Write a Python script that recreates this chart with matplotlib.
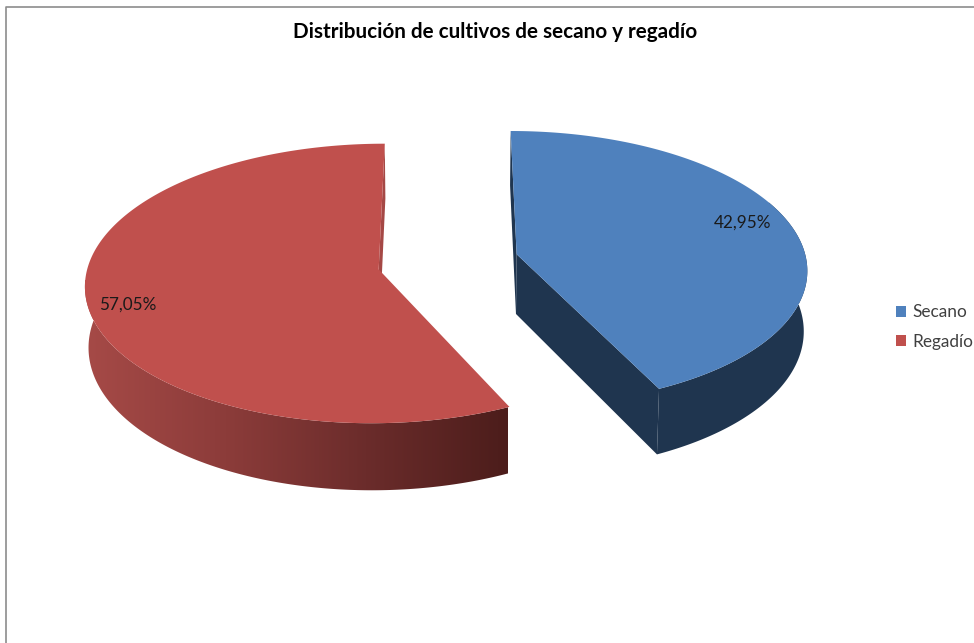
import matplotlib
matplotlib.use('Agg')
import matplotlib.pyplot as plt
from matplotlib.patches import Patch, Polygon
from matplotlib.colors import LinearSegmentedColormap
import numpy as np

labels = ['Secano', 'Regadío']
values = [42.95, 57.05]
title = 'Distribución de cultivos de secano y regadío'

gblue = '#4F81BD'
gred = '#C0504D'
blue_side = '#1F354F'
red_cut = '#A54845'

# side shading of the red slice, left to right
red_side = LinearSegmentedColormap.from_list('red_side', ['#A64A47', '#8C3C3A', '#6B2C2B', '#4C1D1B'])

# camera of the fake 3d pie
cx, A = 446.5, 290.0
y0, d, e = 262.3, -110.7, 0.1
depth = 60.0
explode = 0.235
shrink = 0.99
nudge = [(4, -1), (-1, 0)]


def project(u, v, i, low=False):
    w = 1 + e * v
    x = A * u / w
    y = (y0 + d * v) / w
    if low:
        return cx + x * shrink + nudge[i][0], y + depth / w + nudge[i][1]
    return cx + x + nudge[i][0], y + nudge[i][1]


fig = plt.figure(figsize=(9.74, 6.43), dpi=100)
ax = fig.add_axes([0, 0, 1, 1])

# frame of the chart area
ax.plot([6, 6, 974], [643, 7, 7], color='#8C8C8C', lw=1.2)

total = sum(values)
start = 0.0
for i, val in enumerate(values):
    sweep = 360.0 * val / total
    th = np.radians(np.linspace(start, start + sweep, 361))
    mid = np.radians(start + sweep / 2)
    ou, ov = explode * np.sin(mid), explode * np.cos(mid)
    u = ou + np.sin(th)
    v = ov + np.cos(th)

    # rim, the back part stays hidden under the top face
    front = np.cos(th) < 0.4
    upper = [project(a, b, i) for a, b in zip(u[front], v[front])]
    lower = [project(a, b, i, True) for a, b in zip(u[front], v[front])]
    rim = Polygon(upper + lower[::-1], fc=blue_side if i == 0 else 'none', ec='none', zorder=2 + i)
    ax.add_patch(rim)
    if i == 1:
        im = ax.imshow(np.linspace(0, 1, 256).reshape(1, -1), cmap=red_side, extent=(84, 508, 500, 280),
                       aspect='auto', zorder=2 + i)
        im.set_clip_path(rim)

    # cut faces, the red slice only shows the one at the back
    for k in ((0, -1) if i == 0 else (-1,)):
        pts = [project(ou, ov, i), project(u[k], v[k], i), project(u[k], v[k], i, True), project(ou, ov, i, True)]
        c = blue_side if i == 0 else red_cut
        ax.add_patch(Polygon(pts, fc=c, ec='none', zorder=2 + i))

    # top face
    top = [project(ou, ov, i)] + [project(a, b, i) for a, b in zip(u, v)]
    ax.add_patch(Polygon(top, fc=gblue if i == 0 else gred, ec='none', zorder=4 + i))
    start += sweep

ax.set_xlim(0, 974)
ax.set_ylim(643, 0)
ax.axis('off')

ax.text(495.5, 32, title, ha='center', va='center', fontsize=14.85, fontweight='bold',
        family='Lato', color='black')

# data labels
label_pos = [(742.5, 222.5), (128, 304.5)]
for val, (lx, ly) in zip(values, label_pos):
    ax.text(lx, ly, f'{val:.2f}%'.replace('.', ','), ha='center', va='center',
            fontsize=12.3, family='Lato', color='#1A1A1A', zorder=10)

handles = [Patch(facecolor=gblue, label=labels[0]), Patch(facecolor=gred, label=labels[1])]
ax.legend(handles=handles, loc='center left', bbox_to_anchor=(893, 327), bbox_transform=ax.transData,
          frameon=False, handlelength=0.58, handleheight=0.58, handletextpad=0.35, labelspacing=0.78,
          borderpad=0.2, borderaxespad=0, prop={'family': 'Lato', 'size': 12.4}, labelcolor='#404040')

plt.savefig('out.png', dpi=100)
